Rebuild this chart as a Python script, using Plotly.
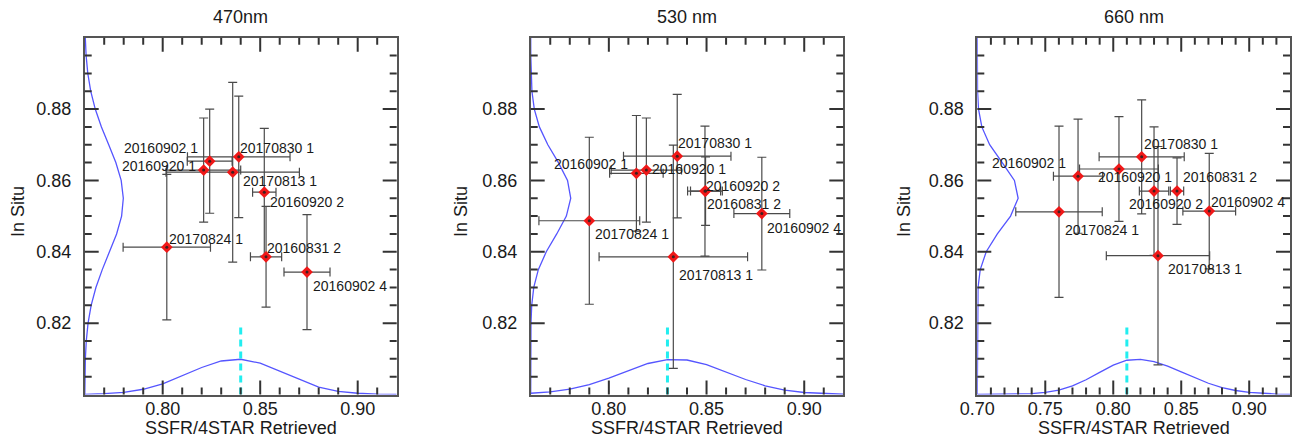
import math
import plotly.graph_objects as go

# ---------------- data ----------------
labels = ["20160902 1", "20160920 1", "20170830 1", "20170813 1",
          "20160920 2", "20160831 2", "20170824 1", "20160902 4"]

titles = ["470nm", "530 nm", "660 nm"]
x_title = "SSFR/4STAR Retrieved"
y_title = "In Situ"

# 470 nm
x470 = [0.8241, 0.8210, 0.8390, 0.8359, 0.8521, 0.8530, 0.8021, 0.8740]
xerr470 = [0.0115, 0.0190, 0.0263, 0.0342, 0.0060, 0.0080, 0.0224, 0.0118]
y470 = [0.8654, 0.8629, 0.8666, 0.8623, 0.8567, 0.8386, 0.8413, 0.8343]
yerr470 = [0.0146, 0.0146, 0.0170, 0.0252, 0.0179, 0.0141, 0.0204, 0.0161]

# 530 nm
x530 = [0.8141, 0.8192, 0.8350, 0.8330, 0.8492, 0.8495, 0.7900, 0.8783]
xerr530 = [0.0137, 0.0180, 0.0275, 0.0380, 0.0089, 0.0077, 0.0258, 0.0143]
y530 = [0.8620, 0.8629, 0.8668, 0.8386, 0.8570, 0.8570, 0.8487, 0.8507]
yerr530 = [0.0162, 0.0146, 0.0173, 0.0313, 0.0182, 0.0096, 0.0234, 0.0158]

# 660 nm
x660 = [0.7741, 0.8042, 0.8209, 0.8329, 0.8300, 0.8469, 0.7601, 0.8706]
xerr660 = [0.0181, 0.0290, 0.0313, 0.0380, 0.0108, 0.0049, 0.0318, 0.0194]
y660 = [0.8612, 0.8632, 0.8666, 0.8389, 0.8570, 0.8570, 0.8512, 0.8514]
yerr660 = [0.0160, 0.0147, 0.0160, 0.0306, 0.0180, 0.0093, 0.0240, 0.0162]

# cyan reference line positions and its vertical extent
cyan_x = [0.84, 0.83, 0.81]
cyan_y = [0.80, 0.82]

# left-side distribution curves (x read at these In Situ values)
left_y = [0.800, 0.805, 0.810, 0.815, 0.820, 0.825, 0.830, 0.835, 0.840, 0.845, 0.850,
          0.855, 0.860, 0.865, 0.870, 0.875, 0.880, 0.885, 0.890, 0.895, 0.900]
left_x470 = [0.76005, 0.76013, 0.76034, 0.76081, 0.76172, 0.76331, 0.76575, 0.76901, 0.77278,
             0.77636, 0.77893, 0.77980, 0.77871, 0.77597, 0.77232, 0.76858, 0.76541, 0.76308,
             0.76158, 0.76073, 0.76031]
left_x530 = [0.76000, 0.76000, 0.76001, 0.76003, 0.76014, 0.76052, 0.76157, 0.76390, 0.76797,
             0.77332, 0.77825, 0.78050, 0.77885, 0.77420, 0.76877, 0.76444, 0.76184, 0.76063,
             0.76017, 0.76004, 0.76000]
left_x660 = [0.70000, 0.70000, 0.70000, 0.70000, 0.70001, 0.70009, 0.70053, 0.70216, 0.70656,
             0.71474, 0.72447, 0.73005, 0.72730, 0.71833, 0.70909, 0.70333, 0.70090, 0.70018,
             0.70003, 0.70000, 0.70000]

# bottom distribution curves
bot_x_a = [0.76, 0.77, 0.78, 0.79, 0.80, 0.81, 0.82, 0.83, 0.84, 0.85, 0.86, 0.87, 0.88,
           0.89, 0.90, 0.91, 0.92]
bot_y470 = [0.80006, 0.80022, 0.80061, 0.80147, 0.80300, 0.80518, 0.80757, 0.80939, 0.80987,
            0.80879, 0.80663, 0.80425, 0.80210, 0.80090, 0.80035, 0.80012, 0.80004]
bot_y530 = [0.80035, 0.80075, 0.80150, 0.80275, 0.80461, 0.80676, 0.80869, 0.80979, 0.80967,
            0.80836, 0.80633, 0.80420, 0.80244, 0.80124, 0.80056, 0.80022, 0.80007]
bot_x_b = [0.70, 0.71, 0.72, 0.73, 0.74, 0.75, 0.76, 0.77, 0.78, 0.79, 0.80, 0.81, 0.82,
           0.83, 0.84, 0.85, 0.86, 0.87, 0.88, 0.89, 0.90, 0.91, 0.92, 0.93]
bot_y660 = [0.80000, 0.80001, 0.80002, 0.80008, 0.80023, 0.80057, 0.80125, 0.80242, 0.80414,
            0.80622, 0.80824, 0.80960, 0.80986, 0.80924, 0.80798, 0.80635, 0.80465, 0.80315,
            0.80196, 0.80112, 0.80059, 0.80029, 0.80013, 0.80005]

x_ranges = [[0.76, 0.92], [0.76, 0.92], [0.70, 0.93]]
y_range = [0.80, 0.90]
y_ticks = [0.82, 0.84, 0.86, 0.88]

# tick spacing of the IDL-style axes (major, minor)
x_steps = (0.05, 0.01)
y_steps = (0.02, 0.005)

# ---------------- style ----------------
W, H = 1292, 441
FONT = "Liberation Sans, Arial, Helvetica, sans-serif"
frames = [(84.7, 396.7), (530.7, 843.3), (977.3, 1290.0)]
ytitle_px = [18, 461, 904]
top_px, bot_px = 37.7, 394.5
axis_col = "#555555"
tick_col = "#333333"
txt_col = "#1a1a1a"
curve_col = "rgb(85,85,255)"
major_len, minor_len = 14, 7

# label placement: (anchor, dx px, dy px screen-down)
label_pos = [
    [("right", -11, -13), ("right", -7, -4), ("left", 0, -9), ("left", 9, 9),
     ("left", 5, 10), ("left", 0, -9), ("left", 1, -8), ("left", 5, 14)],
    [("right", -7, -9), ("left", 5, -1), ("left", 0, -13), ("left", 5, 18),
     ("left", 0, -5), ("left", 0, 13), ("left", 5, 13), ("left", 4, 14)],
    [("right", -11, -13), ("left", -22, 8), ("left", 1, -13), ("left", 9, 13),
     ("left", -26, 13), ("left", 5, -14), ("left", 5, 18), ("left", 1, -9)],
]

panels = [
    dict(x=x470, xe=xerr470, y=y470, ye=yerr470, lx=left_x470, bx=bot_x_a, by=bot_y470),
    dict(x=x530, xe=xerr530, y=y530, ye=yerr530, lx=left_x530, bx=bot_x_a, by=bot_y530),
    dict(x=x660, xe=xerr660, y=y660, ye=yerr660, lx=left_x660, bx=bot_x_b, by=bot_y660),
]


def tick_positions(lo, hi, major, minor):
    """Interior tick values on an axis range, flagged as major or minor."""
    out = []
    k = math.ceil(lo / minor - 1e-6)
    while k * minor < hi - 1e-9:
        v = k * minor
        if v > lo + 1e-9:
            q = v / major
            out.append((v, abs(q - round(q)) < 1e-6))
        k += 1
    return out


fig = go.Figure()
annotations = []
shapes = []
tfont = dict(family=FONT, size=18, color=txt_col)
tick_line = dict(color=tick_col, width=2)

for i, p in enumerate(panels):
    sfx = "" if i == 0 else str(i + 1)
    xa, ya = "x" + sfx, "y" + sfx
    fig.add_trace(go.Scatter(x=p["lx"], y=left_y, mode="lines", xaxis=xa, yaxis=ya,
                             line=dict(color=curve_col, width=1.3), hoverinfo="skip"))
    fig.add_trace(go.Scatter(x=p["bx"], y=p["by"], mode="lines", xaxis=xa, yaxis=ya,
                             line=dict(color=curve_col, width=1.3), hoverinfo="skip"))
    fig.add_trace(go.Scatter(x=[cyan_x[i], cyan_x[i]], y=cyan_y, mode="lines", xaxis=xa, yaxis=ya,
                             line=dict(color="#22eef0", width=3, dash="7px,5px"), hoverinfo="skip"))
    fig.add_trace(go.Scatter(
        x=p["x"], y=p["y"], mode="markers", xaxis=xa, yaxis=ya,
        marker=dict(symbol="diamond", size=9, color="#f01818"),
        error_x=dict(type="data", array=p["xe"], visible=True, color="#4a4a4a", thickness=1.2, width=4.5),
        error_y=dict(type="data", array=p["ye"], visible=True, color="#4a4a4a", thickness=1.2, width=4.5),
    ))
    fig.add_trace(go.Scatter(x=p["x"], y=p["y"], mode="markers", xaxis=xa, yaxis=ya,
                             marker=dict(symbol="circle", size=3, color="#402020"), hoverinfo="skip"))
    for j, lab in enumerate(labels):
        anc, dx, dy = label_pos[i][j]
        annotations.append(dict(x=p["x"][j], y=p["y"][j], xref=xa, yref=ya, text=lab,
                                showarrow=False, xanchor=anc, yanchor="middle",
                                xshift=dx, yshift=-dy, borderpad=0,
                                font=dict(family=FONT, size=14, color=txt_col)))
    l, r = frames[i]
    dom_x = [l / W, r / W]
    dom_y = [1 - bot_px / H, 1 - top_px / H]
    annotations.append(dict(x=(l + r) / 2 / W, y=1 - 17 / H, xref="paper", yref="paper",
                            text=titles[i], showarrow=False, xanchor="center", yanchor="middle",
                            font=tfont))
    annotations.append(dict(x=(l + r) / 2 / W, y=1 - 428 / H, xref="paper", yref="paper",
                            text=x_title, showarrow=False, xanchor="center",
                            yanchor="middle", font=tfont))
    annotations.append(dict(x=ytitle_px[i] / W, y=1 - 212 / H, xref="paper", yref="paper",
                            text=y_title, showarrow=False, xanchor="center", yanchor="middle",
                            textangle=-90, font=tfont))

    # inward ticks on all four sides of the frame (x from data, depth in paper units)
    for v, is_major in tick_positions(x_ranges[i][0], x_ranges[i][1], *x_steps):
        f = (major_len if is_major else minor_len) / H
        for y0, y1 in ((dom_y[0], dom_y[0] + f), (dom_y[1] - f, dom_y[1])):
            shapes.append(dict(type="line", xref=xa, yref="paper", x0=v, x1=v,
                               y0=y0, y1=y1, line=tick_line, layer="above"))
    for v, is_major in tick_positions(y_range[0], y_range[1], *y_steps):
        f = (major_len if is_major else minor_len) / W
        for x0, x1 in ((dom_x[0], dom_x[0] + f), (dom_x[1] - f, dom_x[1])):
            shapes.append(dict(type="line", xref="paper", yref=ya, x0=x0, x1=x1,
                               y0=v, y1=v, line=tick_line, layer="above"))

    fig.update_layout(**{
        "xaxis" + sfx: dict(domain=dom_x, range=x_ranges[i], anchor=ya,
                            showline=True, linecolor=axis_col, linewidth=1.8, mirror=True,
                            ticks="", showgrid=False, zeroline=False, automargin=False,
                            tickmode="linear", tick0=0.70, dtick=x_steps[0], tickformat=".2f",
                            tickfont=tfont, ticklabelstandoff=-3),
        "yaxis" + sfx: dict(domain=dom_y, range=y_range, anchor=xa,
                            showline=True, linecolor=axis_col, linewidth=1.8, mirror=True,
                            ticks="", showgrid=False, zeroline=False, automargin=False,
                            tickmode="array", tickvals=y_ticks, tickformat=".2f",
                            tickfont=tfont, ticklabelstandoff=8),
    })

fig.update_layout(width=W, height=H, margin=dict(l=0, r=0, t=0, b=0),
                  paper_bgcolor="white", plot_bgcolor="white", showlegend=False,
                  annotations=annotations, shapes=shapes)

fig.write_html("out.html")
